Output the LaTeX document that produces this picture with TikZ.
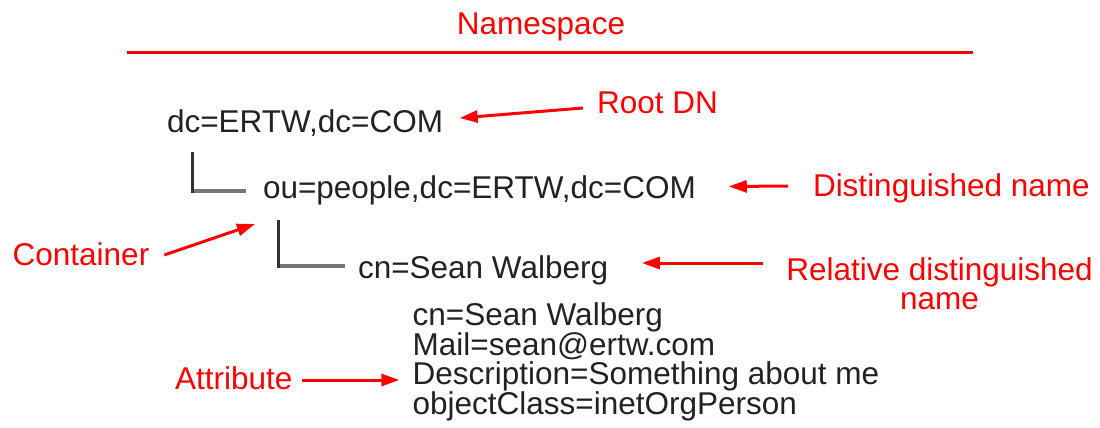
\documentclass[tikz,border=0pt]{standalone}
\usepackage{fontspec}
\setmainfont{Liberation Sans}
\usetikzlibrary{arrows.meta}
\definecolor{txt}{HTML}{222222}
\definecolor{lbl}{HTML}{FF0000}
\definecolor{vcol}{HTML}{333333}
\definecolor{hcol}{HTML}{777777}
\begin{document}
\begin{tikzpicture}[x=1pt,y=-1pt,
  basefont/.style={inner sep=0pt, outer sep=0pt, font=\fontsize{31.5}{29.5}\selectfont},
  entry/.style={basefont, text=txt, anchor=base west},
  redlbl/.style={basefont, text=lbl, anchor=base west},
  redarrow/.style={draw=lbl, line width=3pt, -{Triangle[length=18pt,width=12pt]}},
  treev/.style={draw=vcol, line width=3.4pt},
  treeh/.style={draw=hcol, line width=3.6pt}]
\useasboundingbox (0,0) rectangle (1100,428);
% title and rule
\node[redlbl, anchor=base] (ns) at (541,35) {Namespace};
\draw[draw=lbl, line width=2.6pt] (127,52.3) -- (973,52.3);
% entries
\node[entry] (dc) at (167,132) {dc=ERTW,dc=COM};
\node[entry] (ou) at (263,198.5) {ou=people,dc=ERTW,dc=COM};
\node[entry] (cn) at (358,278) {cn=Sean Walberg};
\node[entry] (a1) at (412.7,325.5) {cn=Sean Walberg};
\node[entry] (a2) at (412.7,355) {Mail=sean@ertw.com};
\node[entry] (a3) at (412.7,384.5) {Description=Something about me};
\node[entry] (a4) at (412.7,414) {objectClass=inetOrgPerson};
% labels
\node[redlbl] (root) at (597,113) {Root DN};
\node[redlbl] (dn) at (813,196) {Distinguished name};
\node[redlbl] (cont) at (12.7,265.5) {Container};
\node[redlbl, anchor=north, align=center] (rdn) at (939.5,257.4) {Relative distinguished\\name};
\node[redlbl] (attr) at (175,389) {Attribute};
% tree connectors
\coordinate (t1s) at ([xshift=25.5pt,yshift=-20pt]dc.base west);
\coordinate (t1e) at ([xshift=-17pt,yshift=7.5pt]ou.base west);
\draw[treev] (t1s) |- (t1e);
\draw[treeh] ([xshift=1.7pt]t1s |- t1e) -- (t1e);
\coordinate (t2s) at ([xshift=15.3pt,yshift=-21.5pt]ou.base west);
\coordinate (t2e) at ([xshift=-13pt,yshift=12pt]cn.base west);
\draw[treev] (t2s) |- (t2e);
\draw[treeh] ([xshift=1.7pt]t2s |- t2e) -- (t2e);
% red arrows
\draw[redarrow] ([xshift=-14pt,yshift=5pt]root.base west) -- ([xshift=16.7pt,yshift=14pt]dc.base east);
\draw[redarrow] ([xshift=-25pt,yshift=10pt]dn.base west) -- ([xshift=33pt,yshift=12pt]ou.base east);
\draw[redarrow] ([xshift=15pt,yshift=10.5pt]cont.base east) -- ([xshift=-8pt,yshift=-25.5pt]ou.base west);
\draw[redarrow] ([xshift=-23pt,yshift=-5.6pt]rdn.north west) -- ([xshift=33.8pt,yshift=15pt]cn.base east);
\draw[redarrow] ([xshift=9.5pt,yshift=9pt]attr.base east) -- ([xshift=-13.4pt,yshift=4.5pt]a3.base west);
\end{tikzpicture}
\end{document}
